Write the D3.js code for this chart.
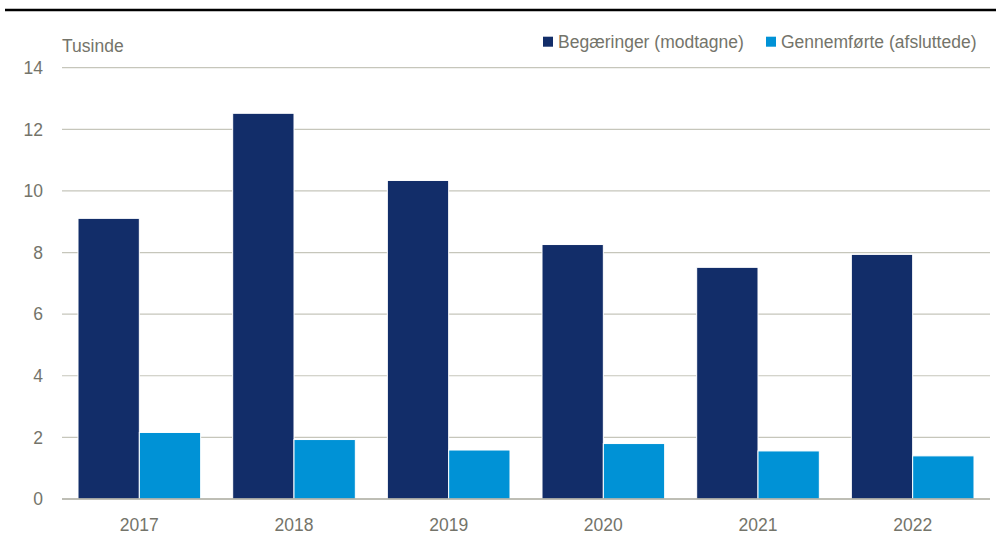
<!DOCTYPE html>
<html><head><meta charset="utf-8">
<script src="https://cdn.jsdelivr.net/npm/d3@7"></script>
<style>body{margin:0;background:#fff}svg{display:block}text{font-family:"Liberation Sans",Arial,sans-serif}</style>
</head><body><svg id="c" width="998" height="543"></svg>
<script>
const years = ["2017","2018","2019","2020","2021","2022"];
const seriesNames = ["Begæringer (modtagne)","Gennemførte (afsluttede)"];
const begaeringer = [9.11, 12.52, 10.34, 8.26, 7.52, 7.94];
const gennemfoerte = [2.16, 1.93, 1.59, 1.80, 1.56, 1.40];
const yTicks = [0,2,4,6,8,10,12,14];
const unitLabel = "Tusinde";

(function(){
const colors = ["#122d69", "#0092d6"];
const textCol = "#74746a";
const svg = d3.select("#c");
const pL = 62, pR = 990, pT = 67.7, pB = 499;

const x0 = d3.scaleBand().domain(years).range([pL, pR]).paddingInner(0.207).paddingOuter(0.1035);
const x1 = d3.scaleBand().domain([0,1]).range([0, x0.bandwidth()]);
const y = d3.scaleLinear().domain([0,14]).range([pB, pT]);

// top rule
svg.append("line").attr("x1",5).attr("x2",996).attr("y1",10).attr("y2",10).attr("stroke","#000").attr("stroke-width",2.5);

// gridlines
svg.append("g").selectAll("line").data(yTicks.filter(d=>d>0)).join("line")
  .attr("x1",pL).attr("x2",pR).attr("y1",d=>y(d)).attr("y2",d=>y(d))
  .attr("stroke","#c6c6bb").attr("stroke-width",1.2);

// y labels
svg.append("g").selectAll("text").data(yTicks).join("text")
  .attr("x",43).attr("y",d=>y(d)).attr("dy","0.36em").attr("text-anchor","end")
  .attr("fill",textCol).attr("font-size",17.5).text(d=>d);

svg.append("text").attr("x",62).attr("y",51.5).attr("fill",textCol).attr("font-size",17.5).text(unitLabel);

// bars
const data = years.map((yr,i)=>({yr, vals:[begaeringer[i], gennemfoerte[i]]}));
const g = svg.append("g").selectAll("g").data(data).join("g").attr("transform",d=>`translate(${x0(d.yr)},0)`);
g.selectAll("rect").data(d=>d.vals.map((v,k)=>({v,k}))).join("rect")
  .attr("x",d=>x1(d.k)).attr("width",x1.bandwidth())
  .attr("y",d=>y(d.v)).attr("height",d=>y(0)-y(d.v))
  .attr("fill",d=>colors[d.k]).attr("stroke","#fff").attr("stroke-width",1);

// baseline
svg.append("line").attr("x1",pL).attr("x2",pR).attr("y1",y(0)).attr("y2",y(0)).attr("stroke","#a9a99d").attr("stroke-width",1.5);

// x labels
svg.append("g").selectAll("text").data(years).join("text")
  .attr("x",d=>x0(d)+x0.bandwidth()/2).attr("y",531).attr("text-anchor","middle")
  .attr("fill",textCol).attr("font-size",17.5).text(d=>d);

// legend
const legX = [543, 766];
seriesNames.forEach((n,i)=>{
  svg.append("rect").attr("x",legX[i]).attr("y",36.7).attr("width",10).attr("height",10).attr("fill",colors[i]);
  svg.append("text").attr("x",legX[i]+15).attr("y",48).attr("fill",textCol).attr("font-size",17.5).text(n);
});
})();
</script></body></html>
